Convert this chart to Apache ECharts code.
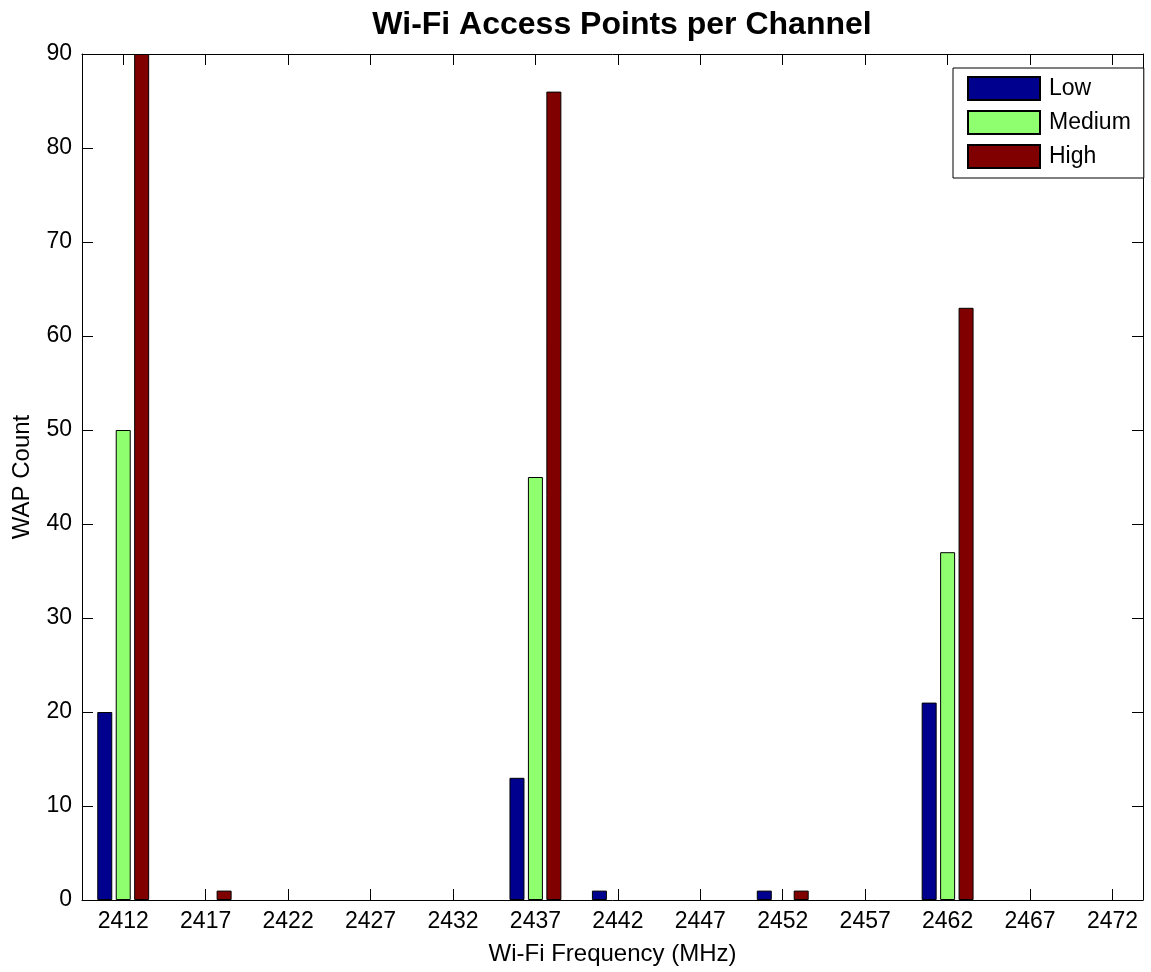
<!DOCTYPE html>
<html>
<head>
<meta charset="utf-8">
<title>Wi-Fi Access Points per Channel</title>
<script src="https://cdn.jsdelivr.net/npm/echarts@6/dist/echarts.min.js"></script>
<style>
  html, body { margin: 0; padding: 0; background: #ffffff; }
  #chart { width: 1151px; height: 972px; }
</style>
</head>
<body>
<div id="chart"></div>
<script>
// Channel centre frequencies (MHz) and access-point counts per signal band
const frequencies = [2412, 2417, 2422, 2427, 2432, 2437, 2442, 2447, 2452, 2457, 2462, 2467, 2472];
const lowCounts    = [20, 0, 0, 0, 0, 13, 1, 0, 1, 0, 21, 0, 0];
const mediumCounts = [50, 0, 0, 0, 0, 45, 0, 0, 0, 0, 37, 0, 0];
const highCounts   = [90, 1, 0, 0, 0, 86, 0, 0, 1, 0, 63, 0, 0];
const seriesNames  = ['Low', 'Medium', 'High'];
const yTicks = [0, 10, 20, 30, 40, 50, 60, 70, 80, 90];

const FONT = '"Liberation Sans", Arial, Helvetica, sans-serif';
const colors = ['#00008f', '#8fff70', '#800000'];

// pair each count with its frequency, leaving out empty channels
function toPoints(counts) {
  const pts = [];
  counts.forEach((v, i) => { if (v > 0) pts.push([frequencies[i], v]); });
  return pts;
}

const plain = v => String(v);
const tickStyle = { show: true, inside: true, length: 11, lineStyle: { color: '#000', width: 1 } };
const lineStyle = { show: true, onZero: false, lineStyle: { color: '#000', width: 1 } };

const chart = echarts.init(document.getElementById('chart'), null, { renderer: 'canvas' });

chart.setOption({
  backgroundColor: '#ffffff',
  animation: false,
  textStyle: { fontFamily: FONT },
  title: {
    text: 'Wi-Fi Access Points per Channel',
    left: 617,
    textAlign: 'center',
    top: 4,
    textStyle: { fontFamily: FONT, fontWeight: 'bold', fontSize: 32, color: '#000' }
  },
  legend: {
    orient: 'vertical',
    left: 953,
    top: 68,
    itemWidth: 72,
    itemHeight: 23,
    itemGap: 9,
    padding: [8, 13, 9, 14],
    backgroundColor: '#ffffff',
    borderColor: '#000',
    borderWidth: 1,
    icon: 'rect',
    data: seriesNames,
    textStyle: { fontFamily: FONT, fontSize: 23, color: '#000', padding: [0, 0, 0, 4] }
  },
  grid: { left: 82, right: 8, top: 54, bottom: 72, containLabel: false },
  xAxis: [
    {
      type: 'value',
      min: 2409.5,
      max: 2473.85,
      position: 'bottom',
      name: 'Wi-Fi Frequency (MHz)',
      nameLocation: 'middle',
      nameGap: 42,
      nameTextStyle: { fontFamily: FONT, fontSize: 24, color: '#000' },
      axisLine: lineStyle,
      axisTick: Object.assign({ customValues: frequencies }, tickStyle),
      axisLabel: {
        customValues: frequencies,
        formatter: plain,
        margin: 10,
        fontFamily: FONT, fontSize: 23, color: '#000'
      },
      splitLine: { show: false }
    },
    {
      type: 'value',
      min: 2409.5,
      max: 2473.85,
      position: 'top',
      axisLine: lineStyle,
      axisTick: Object.assign({ customValues: frequencies }, tickStyle),
      axisLabel: { show: false },
      splitLine: { show: false }
    }
  ],
  yAxis: [
    {
      type: 'value',
      min: 0,
      max: 90,
      interval: 10,
      position: 'left',
      name: 'WAP Count',
      nameLocation: 'middle',
      nameGap: 48,
      nameTextStyle: { fontFamily: FONT, fontSize: 24, color: '#000' },
      axisLine: lineStyle,
      axisTick: Object.assign({ customValues: yTicks }, tickStyle),
      axisLabel: {
        customValues: yTicks,
        formatter: plain,
        margin: 10,
        fontFamily: FONT, fontSize: 23, color: '#000'
      },
      splitLine: { show: false }
    },
    {
      type: 'value',
      min: 0,
      max: 90,
      interval: 10,
      position: 'right',
      axisLine: lineStyle,
      axisTick: Object.assign({ customValues: yTicks }, tickStyle),
      axisLabel: { show: false },
      splitLine: { show: false }
    }
  ],
  series: [lowCounts, mediumCounts, highCounts].map((counts, k) => ({
    name: seriesNames[k],
    type: 'bar',
    xAxisIndex: 0,
    yAxisIndex: 0,
    barWidth: 15,
    barGap: '23%',
    data: toPoints(counts),
    itemStyle: { color: colors[k], borderColor: '#000', borderWidth: 1 }
  }))
});
</script>
</body>
</html>
